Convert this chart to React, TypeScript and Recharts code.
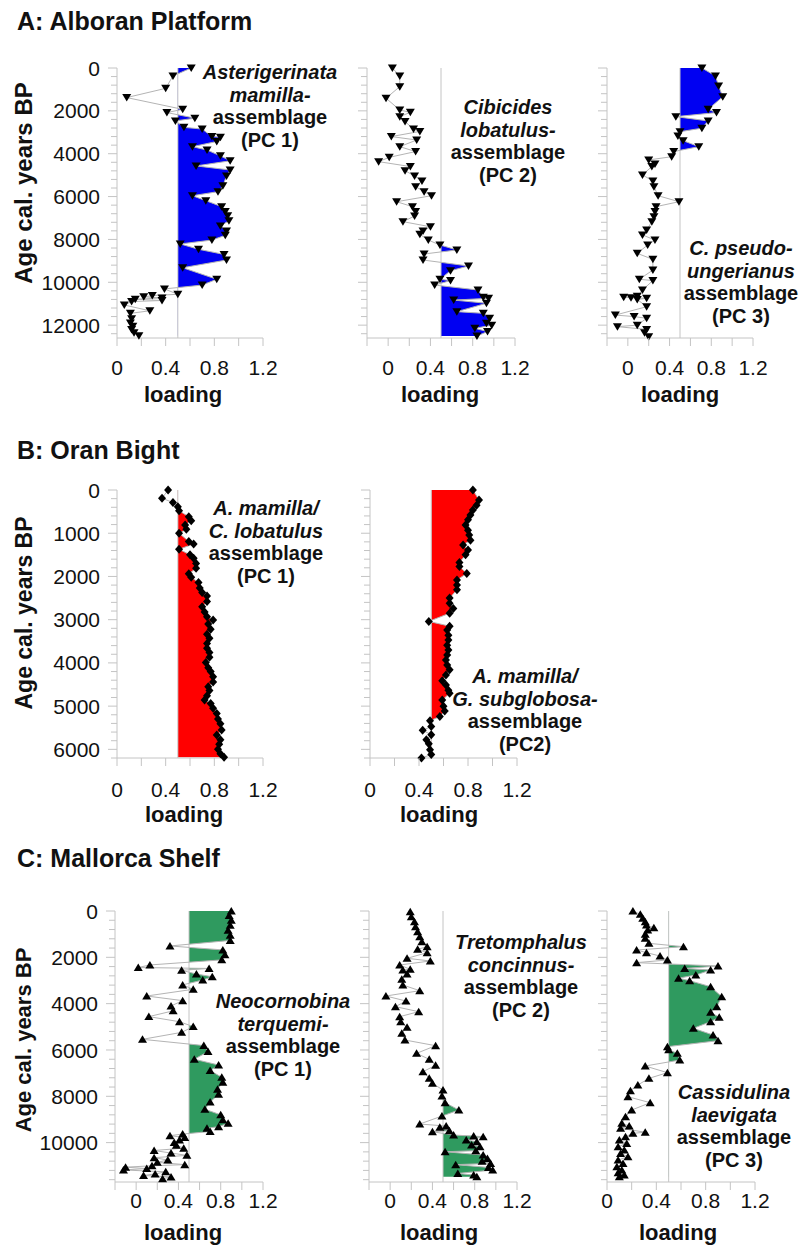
import React from 'react';
import { ComposedChart, Line, Area, XAxis, YAxis, ReferenceLine } from 'recharts';

const FONT = '"Liberation Sans", Arial, Helvetica, sans-serif';
const AXIS = '#c4c4c4';
const LINE = '#b4b4b4';
const BLUE = '#0000f2';
const RED = '#ff0000';
const GREEN = '#2f9a5f';

// ---- A: Alboran Platform ----
const a1Age = [0, 370, 950, 1380, 1930, 2080, 2340, 2470, 2770, 2850, 3200, 3230, 3430, 3670, 3830, 4100, 4330, 4570, 4760, 5040, 5500, 5770, 5960, 6190, 6470, 6700, 6890, 7130, 7370, 7610, 7810, 8030, 8210, 8460, 8700, 8960, 9320, 9860, 10130, 10310, 10560, 10620, 10680, 10730, 10790, 10850, 10900, 11060, 11330, 11450, 11700, 11900, 12050, 12200, 12350, 12500];
const a1Load = [0.61, 0.46, 0.40, 0.08, 0.54, 0.41, 0.64, 0.48, 0.55, 0.70, 0.78, 0.85, 0.82, 0.62, 0.74, 0.85, 0.93, 0.65, 0.93, 0.90, 0.87, 0.83, 0.62, 0.73, 0.86, 0.89, 0.91, 0.92, 0.85, 0.90, 0.89, 0.78, 0.52, 0.67, 0.88, 0.90, 0.54, 0.82, 0.70, 0.39, 0.50, 0.29, 0.22, 0.37, 0.15, 0.37, 0.12, 0.06, 0.27, 0.11, 0.12, 0.11, 0.13, 0.12, 0.14, 0.18];

const a2Age = [0, 370, 870, 1410, 1960, 2070, 2270, 2500, 2850, 2960, 3200, 3360, 3670, 3900, 4170, 4370, 4600, 4790, 5040, 5270, 5540, 5770, 5960, 6240, 6470, 6700, 6910, 7170, 7410, 7610, 7760, 8030, 8260, 8490, 8680, 8960, 9240, 9460, 9860, 9920, 10130, 10360, 10700, 10750, 10830, 10980, 11370, 11450, 11680, 11910, 12000, 12150, 12300, 12510];
const a2Load = [0.04, 0.11, 0.11, -0.02, 0.11, 0.21, 0.11, 0.16, 0.24, 0.30, 0.03, 0.27, 0.11, 0.26, 0.01, -0.09, 0.21, 0.16, 0.25, 0.32, 0.26, 0.34, 0.41, 0.08, 0.23, 0.26, 0.25, 0.14, 0.40, 0.33, 0.30, 0.38, 0.49, 0.65, 0.34, 0.33, 0.76, 0.59, 0.49, 0.59, 0.44, 0.85, 0.90, 0.95, 0.62, 0.93, 0.65, 0.90, 0.96, 0.93, 0.98, 0.82, 0.94, 0.84];

const a3Age = [0, 370, 840, 1340, 1930, 2080, 2270, 2470, 2810, 2970, 3170, 3390, 3670, 3900, 4140, 4290, 4480, 4600, 4990, 5270, 5540, 5960, 6240, 6470, 6700, 6940, 7170, 7560, 7790, 8030, 8260, 8650, 8930, 9430, 9860, 9920, 10360, 10650, 10700, 10720, 10750, 10800, 11140, 11530, 11600, 11680, 12000, 12070, 12200, 12350, 12540];
const a3Load = [0.71, 0.84, 0.87, 0.91, 0.77, 0.85, 0.46, 0.77, 0.71, 0.50, 0.48, 0.53, 0.68, 0.44, 0.42, 0.20, 0.26, 0.23, 0.14, 0.24, 0.25, 0.29, 0.49, 0.27, 0.26, 0.25, 0.23, 0.18, 0.14, 0.26, 0.19, 0.09, 0.24, 0.24, 0.11, 0.24, 0.14, 0.09, -0.04, 0.03, 0.18, 0.09, 0.18, -0.12, 0.06, 0.18, 0.09, -0.10, 0.18, 0.16, 0.20];

// ---- B: Oran Bight ----
const b1Age = [0, 190, 290, 390, 480, 620, 710, 810, 910, 1000, 1190, 1250, 1370, 1500, 1580, 1700, 1810, 1940, 2020, 2140, 2270, 2370, 2450, 2580, 2700, 2820, 2930, 3010, 3100, 3220, 3340, 3430, 3550, 3660, 3760, 3870, 3990, 4110, 4200, 4320, 4440, 4550, 4640, 4760, 4860, 4940, 5050, 5170, 5300, 5410, 5550, 5670, 5780, 5880, 6000, 6100, 6180];
const b1Load = [0.42, 0.37, 0.46, 0.50, 0.51, 0.59, 0.61, 0.56, 0.57, 0.51, 0.59, 0.63, 0.51, 0.60, 0.63, 0.65, 0.65, 0.59, 0.61, 0.67, 0.68, 0.70, 0.74, 0.74, 0.70, 0.72, 0.74, 0.79, 0.75, 0.77, 0.74, 0.76, 0.74, 0.74, 0.76, 0.76, 0.73, 0.75, 0.77, 0.79, 0.79, 0.75, 0.76, 0.74, 0.72, 0.77, 0.79, 0.82, 0.83, 0.85, 0.86, 0.82, 0.85, 0.84, 0.83, 0.85, 0.88];

const b2Age = [0, 230, 350, 460, 580, 690, 810, 930, 1040, 1160, 1270, 1390, 1500, 1680, 1770, 1930, 2080, 2200, 2310, 2500, 2620, 2740, 2850, 3040, 3150, 3240, 3360, 3470, 3590, 3700, 3820, 3930, 4050, 4160, 4280, 4410, 4510, 4630, 4700, 4860, 5000, 5110, 5240, 5340, 5470, 5560, 5660, 5780, 5870, 6010, 6120, 6200];
const b2Load = [0.84, 0.89, 0.87, 0.84, 0.82, 0.80, 0.78, 0.80, 0.81, 0.82, 0.76, 0.80, 0.78, 0.73, 0.73, 0.79, 0.71, 0.71, 0.71, 0.65, 0.65, 0.68, 0.65, 0.48, 0.65, 0.63, 0.64, 0.64, 0.63, 0.64, 0.63, 0.62, 0.63, 0.65, 0.62, 0.59, 0.62, 0.64, 0.65, 0.59, 0.60, 0.61, 0.57, 0.49, 0.50, 0.43, 0.50, 0.46, 0.48, 0.49, 0.50, 0.42];

// ---- C: Mallorca Shelf ----
const c1Age = [0, 190, 400, 620, 830, 1050, 1270, 1510, 1680, 1890, 2110, 2330, 2440, 2480, 2560, 2720, 2840, 2980, 3190, 3380, 3670, 3870, 4100, 4310, 4560, 4780, 4990, 5240, 5540, 5810, 6070, 6400, 6650, 6890, 7180, 7390, 7700, 7910, 8250, 8560, 8800, 9010, 9160, 9310, 9380, 9520, 9630, 9700, 9780, 9890, 10000, 10110, 10240, 10340, 10450, 10550, 10650, 10750, 10850, 10950, 11000, 11060, 11120, 11180, 11260, 11350, 11420, 11480, 11560];
const c1Load = [0.90, 0.88, 0.90, 0.89, 0.87, 0.89, 0.89, 0.32, 0.82, 0.84, 0.81, 0.13, 0.02, 0.69, 0.43, 0.57, 0.72, 0.63, 0.44, 0.54, 0.10, 0.44, 0.33, 0.35, 0.12, 0.41, 0.54, 0.43, 0.06, 0.64, 0.68, 0.55, 0.78, 0.70, 0.81, 0.82, 0.77, 0.78, 0.70, 0.65, 0.80, 0.82, 0.87, 0.78, 0.67, 0.70, 0.44, 0.32, 0.46, 0.41, 0.36, 0.38, 0.45, 0.17, 0.33, 0.48, 0.17, 0.30, 0.20, 0.46, 0.15, -0.10, 0.10, -0.12, 0.28, 0.18, 0.07, 0.33, 0.25];

const c2Age = [30, 245, 460, 677, 893, 1108, 1324, 1540, 1655, 1799, 2043, 2158, 2331, 2518, 2547, 2720, 2950, 3195, 3440, 3670, 3886, 4130, 4346, 4562, 4778, 5023, 5282, 5570, 5815, 6146, 6405, 6664, 6937, 7225, 7441, 7729, 7988, 8276, 8593, 8852, 9197, 9284, 9341, 9485, 9529, 9673, 9716, 9745, 9889, 9961, 10105, 10177, 10350, 10393, 10537, 10681, 10800, 10897, 10950, 11070, 11185, 11329, 11401, 11473];
const c2Load = [0.19, 0.20, 0.23, 0.24, 0.26, 0.28, 0.30, 0.35, 0.26, 0.35, 0.16, 0.38, 0.09, 0.19, 0.12, 0.16, 0.11, 0.12, 0.28, -0.04, 0.15, 0.05, 0.27, 0.09, 0.10, 0.16, 0.11, 0.14, 0.43, 0.25, 0.37, 0.43, 0.31, 0.37, 0.40, 0.50, 0.49, 0.52, 0.65, 0.49, 0.28, 0.53, 0.47, 0.56, 0.40, 0.60, 0.79, 0.88, 0.72, 0.82, 0.77, 0.85, 0.81, 0.52, 0.88, 0.92, 0.87, 0.95, 0.62, 0.93, 0.97, 0.64, 0.79, 0.82];

const c3Age = [5, 143, 317, 460, 605, 720, 820, 1008, 1180, 1396, 1540, 1684, 1799, 1943, 2115, 2230, 2374, 2480, 2547, 2763, 2900, 3008, 3267, 3699, 4130, 4375, 4591, 4778, 5066, 5354, 5599, 5858, 5990, 6146, 6434, 6693, 6980, 7225, 7513, 7758, 8017, 8276, 8593, 8881, 9168, 9284, 9384, 9550, 9600, 9745, 9889, 10033, 10177, 10321, 10465, 10609, 10753, 10897, 11041, 11185, 11300, 11401, 11473];
const c3Load = [0.21, 0.27, 0.29, 0.31, 0.32, 0.38, 0.33, 0.31, 0.31, 0.34, 0.62, 0.24, 0.32, 0.43, 0.49, 0.24, 0.90, 0.63, 0.84, 0.72, 0.58, 0.67, 0.84, 0.93, 0.89, 0.84, 0.91, 0.84, 0.70, 0.86, 0.90, 0.49, 0.50, 0.57, 0.59, 0.31, 0.49, 0.34, 0.25, 0.19, 0.17, 0.35, 0.20, 0.15, 0.12, 0.18, 0.11, 0.31, 0.21, 0.15, 0.10, 0.16, 0.09, 0.14, 0.11, 0.17, 0.09, 0.13, 0.08, 0.12, 0.09, 0.14, 0.10];

// tick values
const loadTicksNeg = [-0.2, 0, 0.2, 0.4, 0.6, 0.8, 1.0, 1.2];
const loadTicksPos = [0, 0.2, 0.4, 0.6, 0.8, 1.0, 1.2];
const loadLabels = [0, 0.4, 0.8, 1.2];

function minorTicks(max: number, step: number) {
  const out: number[] = [];
  for (let t = 0; t <= max; t += step) out.push(t);
  return out;
}

const Marker = ({ cx, cy, kind }: any) => {
  if (cx == null || cy == null) return null;
  let d = '';
  if (kind === 'down') d = `M${cx - 4.5},${cy - 3.5}L${cx + 4.5},${cy - 3.5}L${cx},${cy + 4}Z`;
  else if (kind === 'up') d = `M${cx - 4.5},${cy + 3.5}L${cx + 4.5},${cy + 3.5}L${cx},${cy - 4}Z`;
  else d = `M${cx},${cy - 4.5}L${cx + 4},${cy}L${cx},${cy + 4.5}L${cx - 4},${cy}Z`;
  return <path d={d} fill="#000" stroke="none" />;
};

const YTick = (props: any) => {
  const { x, y, payload, major, show } = props;
  const isMajor = payload.value % major === 0;
  return (
    <g>
      <line x1={x - (isMajor ? 9 : 6)} x2={x} y1={y} y2={y} stroke={AXIS} />
      {show && isMajor && (
        <text x={x - 17} y={y} dy="0.36em" textAnchor="end" fontSize={21} fontFamily={FONT} fill="#111">
          {payload.value}
        </text>
      )}
    </g>
  );
};

const XTick = (props: any) => {
  const { x, y, payload, dyLabel } = props;
  const v = payload.value;
  const show = loadLabels.some(l => Math.abs(l - v) < 1e-6);
  return (
    <g>
      <line x1={x} x2={x} y1={y} y2={y + 8} stroke={AXIS} />
      {show && (
        <text x={x} y={y + dyLabel} textAnchor="middle" fontSize={21} fontFamily={FONT} fill="#111">
          {Math.abs(v) < 1e-6 ? '0' : v.toFixed(1)}
        </text>
      )}
    </g>
  );
};

const XTitle = ({ lx, ly }: any) => (
  <text x={lx} y={ly} textAnchor="middle" fontSize={22} fontWeight="bold" fontFamily={FONT} fill="#111">
    loading
  </text>
);

const YTitle = ({ lx, ly, fs }: any) => (
  <text x={lx} y={ly} transform={`rotate(-90 ${lx} ${ly})`} textAnchor="middle" fontSize={fs} fontWeight="bold" fontFamily={FONT} fill="#111">
    Age cal. years BP
  </text>
);

type PanelProps = {
  id: string;
  ages: number[];
  loads: number[];
  x0: number;
  x1: number;
  y0: number;
  y1: number;
  neg: boolean;
  yMax: number;
  minor: number;
  major: number;
  showY: boolean;
  fill: string;
  marker: string;
  labelX: number;
  tickDy: number;
  labelDy: number;
  yTitle?: { x: number; y: number; fs: number };
};

function Panel(p: PanelProps) {
  const yW = p.showY ? p.x0 : 30;
  const left = p.x0 - yW;
  const mTop = 12;
  const top = p.y0 - mTop;
  const mRight = 24;
  const xAxisH = 80;
  const plotW = p.x1 - p.x0;
  const plotH = p.y1 - p.y0;
  const width = yW + plotW + mRight;
  const height = mTop + plotH + xAxisH;
  const xDomain = p.neg ? [-0.2, 1.2] : [0, 1.2];
  const data = p.ages.map((a, i) => ({ age: a, v: p.loads[i] }));
  const halfX = yW + ((0.5 - xDomain[0]) / (xDomain[1] - xDomain[0])) * plotW;

  return (
    <div style={{ position: 'absolute', left, top }}>
      <style>{`.fill-${p.id} { clip-path: url(#clip-${p.id}); }`}</style>
      <ComposedChart
        layout="vertical"
        width={width}
        height={height}
        data={data}
        margin={{ top: mTop, right: mRight, bottom: 0, left: 0 }}
      >
        <defs>
          <clipPath id={`clip-${p.id}`}>
            <rect x={halfX} y={0} width={width - halfX} height={height} />
          </clipPath>
        </defs>
        <XAxis
          type="number"
          domain={xDomain}
          ticks={p.neg ? loadTicksNeg : loadTicksPos}
          interval={0}
          tickSize={0}
          tickMargin={0}
          tickLine={false}
          axisLine={{ stroke: AXIS }}
          tick={<XTick dyLabel={p.tickDy} />}
          height={xAxisH}
          label={<XTitle lx={p.labelX - left} ly={mTop + plotH + p.labelDy} />}
        />
        <YAxis
          type="number"
          dataKey="age"
          domain={[0, p.yMax]}
          ticks={minorTicks(p.yMax, p.minor)}
          interval={0}
          tickSize={0}
          tickMargin={0}
          tickLine={false}
          axisLine={{ stroke: AXIS }}
          width={yW}
          tick={<YTick major={p.major} show={p.showY} />}
          label={p.yTitle ? <YTitle lx={p.yTitle.x - left} ly={p.yTitle.y - top} fs={p.yTitle.fs} /> : undefined}
        />
        <ReferenceLine x={0.5} stroke={AXIS} strokeWidth={1} />
        <Area
          type="linear"
          dataKey="v"
          baseValue={0.5}
          className={`fill-${p.id}`}
          fill={p.fill}
          fillOpacity={1}
          stroke="none"
          isAnimationActive={false}
        />
        <Line
          type="linear"
          dataKey="v"
          stroke={LINE}
          strokeWidth={1}
          isAnimationActive={false}
          dot={(d: any) => <Marker key={`m-${p.id}-${d.index}`} cx={d.cx} cy={d.cy} kind={p.marker} />}
          activeDot={false}
        />
      </ComposedChart>
    </div>
  );
}

const panels: PanelProps[] = [
  { id: 'a1', ages: a1Age, loads: a1Load, x0: 117, x1: 263, y0: 68, y1: 338, neg: false, yMax: 12600, minor: 400, major: 2000, showY: true, fill: BLUE, marker: 'down', labelX: 183, tickDy: 37, labelDy: 64, yTitle: { x: 32, y: 183, fs: 24 } },
  { id: 'a2', ages: a2Age, loads: a2Load, x0: 367, x1: 515, y0: 68, y1: 338, neg: true, yMax: 12600, minor: 400, major: 2000, showY: false, fill: BLUE, marker: 'down', labelX: 440, tickDy: 37, labelDy: 64 },
  { id: 'a3', ages: a3Age, loads: a3Load, x0: 607, x1: 753, y0: 68, y1: 338, neg: true, yMax: 12600, minor: 400, major: 2000, showY: false, fill: BLUE, marker: 'down', labelX: 680, tickDy: 37, labelDy: 64 },
  { id: 'b1', ages: b1Age, loads: b1Load, x0: 117, x1: 263, y0: 490, y1: 758, neg: false, yMax: 6200, minor: 200, major: 1000, showY: true, fill: RED, marker: 'diamond', labelX: 184, tickDy: 39, labelDy: 64, yTitle: { x: 32, y: 613, fs: 23 } },
  { id: 'b2', ages: b2Age, loads: b2Load, x0: 370, x1: 517, y0: 490, y1: 758, neg: false, yMax: 6200, minor: 200, major: 1000, showY: false, fill: RED, marker: 'diamond', labelX: 439, tickDy: 39, labelDy: 64 },
  { id: 'c1', ages: c1Age, loads: c1Load, x0: 115, x1: 263, y0: 911, y1: 1182, neg: true, yMax: 11700, minor: 400, major: 2000, showY: true, fill: GREEN, marker: 'up', labelX: 183, tickDy: 26, labelDy: 58, yTitle: { x: 31, y: 1040, fs: 22 } },
  { id: 'c2', ages: c2Age, loads: c2Load, x0: 369, x1: 517, y0: 911, y1: 1182, neg: true, yMax: 11700, minor: 400, major: 2000, showY: false, fill: GREEN, marker: 'up', labelX: 439, tickDy: 26, labelDy: 58 },
  { id: 'c3', ages: c3Age, loads: c3Load, x0: 607, x1: 755, y0: 911, y1: 1182, neg: false, yMax: 11700, minor: 400, major: 2000, showY: false, fill: GREEN, marker: 'up', labelX: 678, tickDy: 26, labelDy: 58 },
];

const rowTitles = [
  { text: 'A: Alboran Platform', x: 17, y: 30 },
  { text: 'B: Oran Bight', x: 17, y: 459 },
  { text: 'C: Mallorca Shelf', x: 17, y: 867 },
];

const noteGap = 22.5;
const notes = [
  { cx: 270, y: 79, lines: [['Asterigerinata', true], ['mamilla-', true], ['assemblage', false], ['(PC 1)', false]] },
  { cx: 508, y: 114, lines: [['Cibicides', true], ['lobatulus-', true], ['assemblage', false], ['(PC 2)', false]] },
  { cx: 741, y: 255, lines: [['C. pseudo-', true], ['ungerianus', true], ['assemblage', false], ['(PC 3)', false]] },
  { cx: 266, y: 515, lines: [['A. mamilla/', true], ['C. lobatulus', true], ['assemblage', false], ['(PC 1)', false]] },
  { cx: 525, y: 683, lines: [['A. mamilla/', true], ['G. subglobosa-', true], ['assemblage', false], ['(PC2)', false]] },
  { cx: 283, y: 1008, lines: [['Neocornobina', true], ['terquemi-', true], ['assemblage', false], ['(PC 1)', false]] },
  { cx: 521, y: 949, lines: [['Tretomphalus', true], ['concinnus-', true], ['assemblage', false], ['(PC 2)', false]] },
  { cx: 734, y: 1099, lines: [['Cassidulina', true], ['laevigata', true], ['assemblage', false], ['(PC 3)', false]] },
];

export default function App() {
  return (
    <div style={{ position: 'absolute', left: 0, top: 0, width: 805, height: 1249, background: '#fff', overflow: 'hidden' }}>
      {panels.map(p => (
        <Panel key={p.id} {...p} />
      ))}
      <svg width={805} height={1249} style={{ position: 'absolute', left: 0, top: 0, pointerEvents: 'none' }}>
        {rowTitles.map(t => (
          <text key={t.text} x={t.x} y={t.y} fontSize={25} fontWeight="bold" fontFamily={FONT} fill="#111">
            {t.text}
          </text>
        ))}
        {notes.map((n, i) => (
          <text key={i} textAnchor="middle" fontSize={20} fontWeight="bold" fontFamily={FONT} fill="#111">
            {n.lines.map(([t, it], j) => (
              <tspan key={j} x={n.cx} y={n.y + j * noteGap} fontStyle={it ? 'italic' : 'normal'}>
                {t as string}
              </tspan>
            ))}
          </text>
        ))}
      </svg>
    </div>
  );
}
